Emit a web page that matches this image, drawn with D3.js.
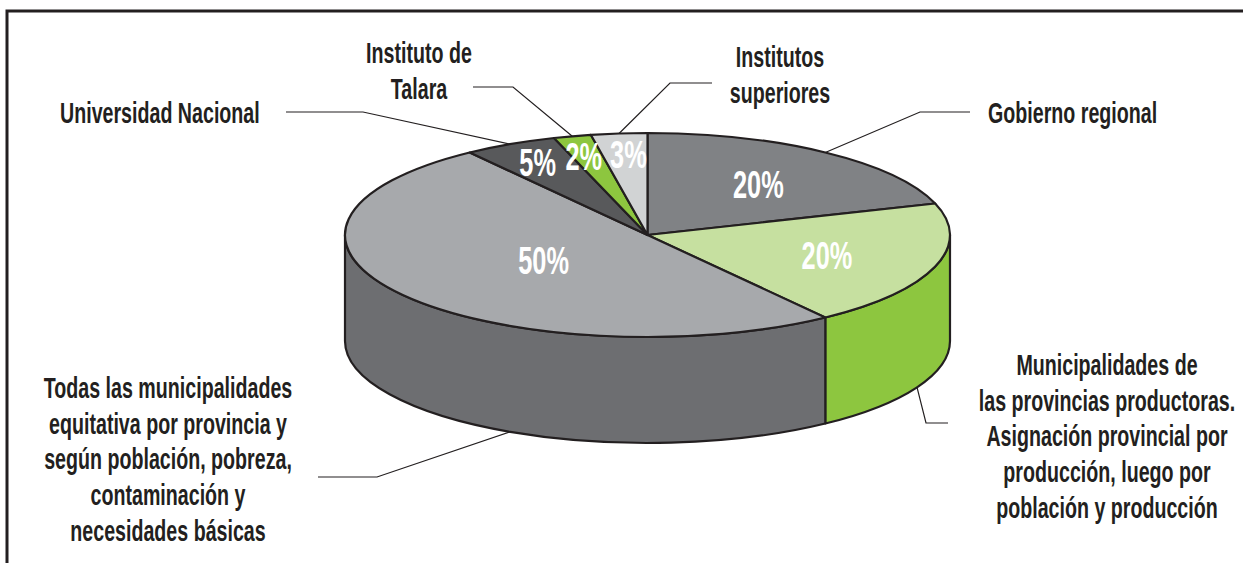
<!DOCTYPE html>
<html>
<head>
<meta charset="utf-8">
<script src="https://cdn.jsdelivr.net/npm/d3@7"></script>
<style>
  html, body { margin: 0; padding: 0; background: #ffffff; }
  svg { display: block; }
</style>
</head>
<body>
<svg id="chart" width="1243" height="563"></svg>
<script>
// ---- data ----
const categories = [
  "Gobierno regional",
  "Municipalidades de las provincias productoras",
  "Todas las municipalidades",
  "Universidad Nacional",
  "Instituto de Talara",
  "Institutos superiores"
];
const values = [20, 20, 50, 5, 2, 3];
const percentLabels = ["20%", "20%", "50%", "5%", "2%", "3%"];
const labelLines = [
  ["Gobierno regional"],
  ["Municipalidades de", "las provincias productoras.", "Asignación provincial por", "producción, luego por", "población y producción"],
  ["Todas las municipalidades", "equitativa por provincia y", "según población, pobreza,", "contaminación y", "necesidades básicas"],
  ["Universidad Nacional"],
  ["Instituto de", "Talara"],
  ["Institutos", "superiores"]
];

// ---- styles / layout ----
const topColors  = ["#808285", "#c6e0a0", "#a7a9ac", "#58595b", "#8dc63f", "#d1d3d4"];
const sideColors = ["#6d6e71", "#8dc63f", "#6d6e71", "#414244", "#6ea52d", "#a7a9ac"];
const ink = "#231f20";
const cx = 647.5, cy = 235, rx = 302.5, ry = 102, depth = 106;
const sx = 0.655;         // horizontal condensing of the label face
const sxPct = 0.65;       // horizontal condensing of the percentage face
const lineGap = 35.7;
const fontFamily = "'Liberation Sans', Arial, sans-serif";

// label layout: text anchor position, elbow and end of the horizontal leader
const labelLayout = [
  { x: 988,  y: 123, anchor: "start",  hx: 970, elbow: [920, 112] },
  { x: 1107, y: 375, anchor: "middle", hx: 948, elbow: [926, 423], side: true },
  { x: 168,  y: 398, anchor: "middle", hx: 318, elbow: [377, 477], side: true },
  { x: 60,   y: 123, anchor: "start",  hx: 286, elbow: [363, 112] },
  { x: 419,  y: 63,  anchor: "middle", hx: 473, elbow: [513, 87] },
  { x: 780,  y: 67,  anchor: "middle", hx: 712, elbow: [670, 83] }
];

const svg = d3.select("#chart");

// frame
svg.append("rect")
  .attr("x", 7).attr("y", 11)
  .attr("width", 1300).attr("height", 700)
  .attr("fill", "none").attr("stroke", ink).attr("stroke-width", 3);

const pie = d3.pie().sort(null).value(d => d).startAngle(0).endAngle(2 * Math.PI);
const arcs = pie(values);

const pt = (a, dy = 0) => [cx + rx * Math.sin(a), cy - ry * Math.cos(a) + dy];
const f = p => p[0].toFixed(2) + "," + p[1].toFixed(2);

// side walls (front half only: angle between PI/2 and 3PI/2)
const gSide = svg.append("g");
arcs.forEach((d, i) => {
  const s0 = Math.max(d.startAngle, Math.PI / 2);
  const s1 = Math.min(d.endAngle, 3 * Math.PI / 2);
  if (s1 <= s0) return;
  const path = `M${f(pt(s0))} A${rx},${ry} 0 0 1 ${f(pt(s1))} L${f(pt(s1, depth))} A${rx},${ry} 0 0 0 ${f(pt(s0, depth))} Z`;
  gSide.append("path")
    .attr("d", path)
    .attr("fill", sideColors[i])
    .attr("stroke", ink).attr("stroke-width", 2.2).attr("stroke-linejoin", "round");
});

// top faces
const gTop = svg.append("g");
arcs.forEach((d, i) => {
  const large = (d.endAngle - d.startAngle) > Math.PI ? 1 : 0;
  const path = `M${cx},${cy} L${f(pt(d.startAngle))} A${rx},${ry} 0 ${large} 1 ${f(pt(d.endAngle))} Z`;
  gTop.append("path")
    .attr("d", path)
    .attr("fill", topColors[i])
    .attr("stroke", ink).attr("stroke-width", 2.2).attr("stroke-linejoin", "round");
});

// percentage labels (sector centroid, small slices pushed toward the rim)
const pct = arcs.map((d, i) => {
  const half = (d.endAngle - d.startAngle) / 2;
  const mid = (d.startAngle + d.endAngle) / 2;
  let k = 2 * Math.sin(half) / (3 * half);
  if (d.value < 10) k = 0.8;
  const node = svg.append("text")
    .attr("text-anchor", "middle")
    .attr("dy", "0.36em")
    .attr("font-family", fontFamily)
    .attr("font-weight", "bold")
    .attr("font-size", 39)
    .attr("fill", "#ffffff")
    .text(percentLabels[i]);
  return {
    node,
    x: cx + k * rx * Math.sin(mid),
    y: cy - k * ry * Math.cos(mid),
    w: node.node().getComputedTextLength() * sxPct
  };
});
// simple horizontal collision relaxation between neighbouring labels
for (let iter = 0; iter < 30; iter++) {
  for (let a = 0; a < pct.length; a++) {
    for (let b = a + 1; b < pct.length; b++) {
      const A = pct[a], B = pct[b];
      if (Math.abs(A.y - B.y) > 28) continue;
      const need = (A.w + B.w) / 2 + 8;
      const dx = B.x - A.x;
      if (Math.abs(dx) < need) {
        const push = (need - Math.abs(dx)) / 2 * (dx >= 0 ? 1 : -1);
        A.x -= push; B.x += push;
      }
    }
  }
}
pct.forEach(p => p.node.attr("transform", `translate(${p.x},${p.y}) scale(${sxPct},1)`));

// leader lines and category labels
arcs.forEach((d, i) => {
  const L = labelLayout[i];
  let target;
  if (L.side) {
    const s0 = Math.max(d.startAngle, Math.PI / 2);
    const s1 = Math.min(d.endAngle, 3 * Math.PI / 2);
    target = pt((s0 + s1) / 2, depth);
  } else {
    target = pt((d.startAngle + d.endAngle) / 2);
  }
  svg.append("path")
    .attr("d", d3.line()([[L.hx, L.elbow[1]], L.elbow, target]))
    .attr("fill", "none").attr("stroke", ink).attr("stroke-width", 1.2);

  const t = svg.append("g")
    .attr("transform", `translate(${L.x},${L.y}) scale(${sx},1)`);
  labelLines[i].forEach((line, j) => {
    t.append("text")
      .attr("x", 0).attr("y", j * lineGap)
      .attr("text-anchor", L.anchor)
      .attr("font-family", fontFamily)
      .attr("font-weight", "bold")
      .attr("font-size", 30)
      .attr("fill", ink)
      .text(line);
  });
});
</script>
</body>
</html>
